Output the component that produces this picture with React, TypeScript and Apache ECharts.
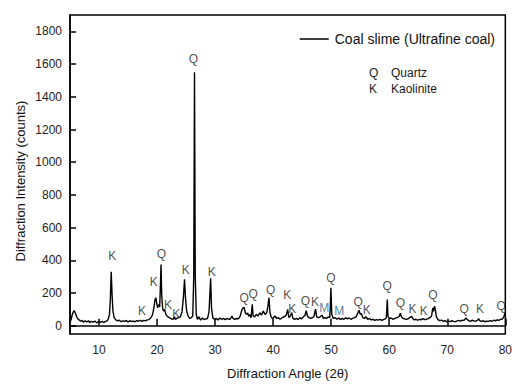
import React, { useEffect, useRef } from "react";
import * as echarts from "echarts";

// Diffraction pattern: [2θ (deg), intensity (counts)]
const pattern: [number, number][] = [
  [5.0, 20], [5.2, 40], [5.4, 70], [5.6, 88], [5.75, 92], [5.9, 80], [6.1, 60], [6.3, 45], [6.6, 35], [6.9, 28],
  [7.1, 34], [7.3, 22], [7.6, 30], [7.9, 24], [8.2, 31], [8.4, 20], [8.7, 27], [9.0, 23], [9.3, 29], [9.6, 18],
  [9.9, 25], [10.2, 21], [10.5, 28], [10.8, 20], [11.1, 27], [11.4, 30], [11.6, 42], [11.8, 70], [11.95, 160],
  [12.1, 330], [12.25, 190], [12.4, 90], [12.6, 50], [12.9, 36], [13.2, 30], [13.5, 34], [13.8, 25], [14.1, 30],
  [14.4, 27], [14.7, 33], [15.0, 24], [15.3, 31], [15.6, 27], [15.9, 29], [16.2, 25], [16.5, 32], [16.8, 28],
  [17.1, 34], [17.4, 27], [17.7, 33], [18.0, 30], [18.3, 36], [18.6, 38], [18.9, 48], [19.2, 65], [19.45, 110],
  [19.65, 160], [19.8, 172], [19.95, 135], [20.1, 110], [20.3, 130], [20.45, 115], [20.58, 250], [20.68, 375],
  [20.8, 190], [20.95, 110], [21.1, 90], [21.3, 100], [21.5, 72], [21.7, 60], [21.9, 55], [22.2, 48], [22.5, 42],
  [22.8, 40], [23.0, 55], [23.15, 40], [23.4, 45], [23.7, 50], [24.0, 55], [24.3, 85], [24.55, 180], [24.73, 285],
  [24.9, 170], [25.1, 90], [25.35, 60], [25.6, 45], [25.9, 50], [26.15, 60], [26.32, 300], [26.45, 1550],
  [26.58, 300], [26.75, 70], [26.95, 40], [27.2, 55], [27.5, 35], [27.8, 48], [28.1, 38], [28.4, 42], [28.7, 45],
  [28.95, 85], [29.23, 290], [29.38, 110], [29.6, 50], [29.9, 40], [30.2, 45], [30.5, 35], [30.8, 48], [31.1, 40],
  [31.4, 45], [31.7, 38], [32.0, 44], [32.3, 42], [32.6, 40], [32.9, 60], [33.1, 45], [33.4, 40], [33.7, 45],
  [34.0, 42], [34.3, 58], [34.6, 95], [34.8, 110], [35.0, 112], [35.2, 80], [35.4, 70], [35.6, 78], [35.8, 58],
  [36.0, 68], [36.2, 50], [36.4, 132], [36.55, 60], [36.8, 55], [37.1, 70], [37.4, 60], [37.7, 80], [38.0, 65],
  [38.3, 90], [38.6, 70], [38.9, 80], [39.1, 120], [39.28, 172], [39.45, 80], [39.7, 50], [40.0, 45], [40.3, 60],
  [40.6, 45], [40.9, 50], [41.2, 40], [41.5, 48], [41.8, 55], [42.1, 60], [42.3, 70], [42.5, 100], [42.7, 50],
  [42.95, 60], [43.2, 80], [43.4, 45], [43.7, 40], [44.0, 45], [44.3, 38], [44.6, 50], [44.9, 42], [45.2, 55],
  [45.45, 62], [45.7, 92], [45.9, 60], [46.2, 50], [46.5, 45], [46.8, 50], [47.05, 60], [47.3, 102], [47.5, 55],
  [47.8, 50], [48.1, 55], [48.45, 65], [48.65, 45], [48.9, 50], [49.2, 45], [49.5, 55], [49.75, 50], [49.85, 120],
  [49.95, 232], [50.1, 70], [50.35, 45], [50.7, 50], [51.0, 40], [51.3, 48], [51.6, 38], [51.9, 45], [52.2, 40],
  [52.5, 50], [52.8, 42], [53.1, 48], [53.4, 40], [53.7, 45], [54.0, 50], [54.3, 55], [54.6, 80], [54.8, 95],
  [55.0, 70], [55.2, 75], [55.45, 50], [55.75, 45], [56.0, 55], [56.3, 40], [56.6, 45], [56.9, 36], [57.2, 40],
  [57.5, 33], [57.8, 38], [58.1, 35], [58.4, 40], [58.7, 33], [59.0, 38], [59.3, 42], [59.5, 50], [59.58, 100],
  [59.66, 160], [59.78, 60], [60.0, 45], [60.3, 48], [60.6, 40], [60.9, 44], [61.2, 48], [61.5, 52], [61.75, 60],
  [61.93, 78], [62.1, 55], [62.4, 45], [62.7, 42], [63.0, 40], [63.3, 44], [63.6, 52], [63.85, 58], [64.05, 45],
  [64.3, 36], [64.6, 40], [64.9, 34], [65.2, 40], [65.5, 36], [65.8, 44], [66.1, 38], [66.4, 40], [66.7, 44],
  [67.0, 50], [67.3, 60], [67.5, 110], [67.65, 88], [67.8, 120], [67.95, 100], [68.1, 58], [68.4, 38], [68.7, 32],
  [69.0, 35], [69.3, 28], [69.6, 32], [69.9, 25], [70.2, 29], [70.5, 26], [70.8, 31], [71.1, 27], [71.4, 25],
  [71.7, 30], [72.0, 33], [72.3, 28], [72.6, 35], [72.9, 33], [73.2, 48], [73.45, 38], [73.7, 32], [74.0, 27],
  [74.3, 34], [74.6, 30], [74.9, 28], [75.2, 33], [75.4, 44], [75.6, 32], [75.9, 27], [76.2, 31], [76.5, 25],
  [76.8, 29], [77.1, 27], [77.4, 32], [77.7, 28], [78.0, 34], [78.3, 31], [78.6, 36], [78.9, 33], [79.2, 40],
  [79.5, 42], [79.75, 55], [79.9, 75], [80.0, 80],
];

// Phase annotations: letter, 2θ position, height (counts)
const peakPhase: string[] = [
  "Q", "K", "K", "K", "Q", "K", "K", "K", "K", "Q", "Q", "Q", "K", "K", "Q", "K", "M", "Q", "M",
  "Q", "K", "Q", "Q", "K", "K", "Q", "Q", "K", "Q",
];
const peakAngle: number[] = [
  26.27, 12.28, 17.41, 19.42, 20.74, 21.87, 23.3, 24.95, 29.4, 35.0, 36.54, 39.57, 42.41, 43.27, 45.57, 47.21,
  48.82, 49.95, 51.39, 54.64, 56.11, 59.66, 61.93, 64.0, 65.94, 67.53, 72.89, 75.63, 79.3,
];
const peakHeight: number[] = [
  1630, 428, 91, 267, 441, 125, 71, 339, 327, 172, 192, 216, 188, 105, 152, 145, 111, 293, 91, 145, 95, 242,
  141, 101, 91, 188, 101, 101, 121,
];

const xTicks: number[] = [10, 20, 30, 40, 50, 60, 70, 80];
const yTicks: number[] = [0, 200, 400, 600, 800, 1000, 1200, 1400, 1600, 1800];

const seriesName = "Coal slime (Ultrafine coal)";
const xName = "Diffraction Angle (2θ)";
const yName = "Diffraction Intensity (counts)";
const phaseKey: [string, string][] = [
  ["Q", "Quartz"],
  ["K", "Kaolinite"],
];

const FONT = "Liberation Sans, Arial, sans-serif";

export default function App() {
  const ref = useRef<HTMLDivElement>(null);
  useEffect(() => {
    if (!ref.current) return;
    const chart = echarts.init(ref.current, null, { renderer: "svg" });
    const colorFor = (p: string) => (p === "M" ? "#1f5f8b" : "#1a1a1a");
    const labelData = peakPhase.map((p, i) => ({
      value: [peakAngle[i], peakHeight[i]],
      name: p,
      label: { color: colorFor(p) },
    }));
    const graphics: any[] = [];
    phaseKey.forEach(([k, v], i) => {
      graphics.push({
        type: "text",
        left: 369,
        top: 67 + i * 16,
        style: { text: k, font: `12px ${FONT}`, fill: "#1a1a1a" },
      });
      graphics.push({
        type: "text",
        left: 391,
        top: 67 + i * 16,
        style: { text: v, font: `12px ${FONT}`, fill: "#1a1a1a" },
      });
    });
    graphics.push({
      type: "text",
      x: 20,
      y: 181,
      rotation: Math.PI / 2,
      style: {
        text: yName,
        font: `13px ${FONT}`,
        fill: "#111",
        align: "center",
        verticalAlign: "middle",
      },
    });
    chart.setOption({
      animation: false,
      textStyle: { fontFamily: FONT },
      grid: {
        left: 70,
        right: 8,
        top: 15,
        bottom: 46,
        show: true,
        borderColor: "#000",
        borderWidth: 1.5,
        containLabel: false,
      },
      legend: {
        data: [seriesName],
        right: 15,
        top: 27,
        icon: "rect",
        itemWidth: 29,
        itemHeight: 1.5,
        itemGap: 4,
        textStyle: { fontSize: 14, color: "#111", fontFamily: FONT, padding: [0, 0, 0, 1] },
      },
      xAxis: {
        type: "value",
        min: 5,
        max: 80,
        name: xName,
        nameLocation: "middle",
        nameGap: 33,
        nameTextStyle: { fontSize: 13, color: "#111", fontFamily: FONT },
        axisLine: { lineStyle: { color: "#000", width: 1.5 } },
        axisTick: { inside: true, length: 7, lineStyle: { color: "#000", width: 1.5 }, customValues: xTicks },
        axisLabel: { customValues: xTicks, fontSize: 12, color: "#222", margin: 10 },
        splitLine: { show: false },
      },
      yAxis: {
        type: "value",
        min: -50,
        max: 1900,
        axisLine: { lineStyle: { color: "#000", width: 1.5 } },
        axisTick: { inside: true, length: 6, lineStyle: { color: "#000", width: 1.5 }, customValues: yTicks },
        axisLabel: {
          customValues: yTicks,
          fontSize: 12,
          color: "#222",
          margin: 8,
          formatter: (v: number) => String(v),
        },
        splitLine: { show: false },
      },
      series: [
        {
          name: seriesName,
          type: "line",
          data: pattern,
          symbol: "none",
          showSymbol: false,
          lineStyle: { color: "#000", width: 1.4 },
          itemStyle: { color: "#000" },
          z: 3,
        },
        {
          name: "labels",
          type: "scatter",
          data: labelData,
          symbolSize: 0,
          silent: true,
          clip: false,
          itemStyle: { color: "#1a1a1a" },
          label: {
            show: true,
            position: "inside",
            formatter: (p: any) => p.name,
            fontSize: 12,
            fontFamily: FONT,
            color: "#1a1a1a",
            textBorderWidth: 0,
          },
          z: 4,
        },
      ],
      graphic: graphics,
    });
    return () => chart.dispose();
  }, []);
  return <div ref={ref} style={{ width: 515, height: 385, position: "absolute", left: 0, top: 0 }} />;
}
